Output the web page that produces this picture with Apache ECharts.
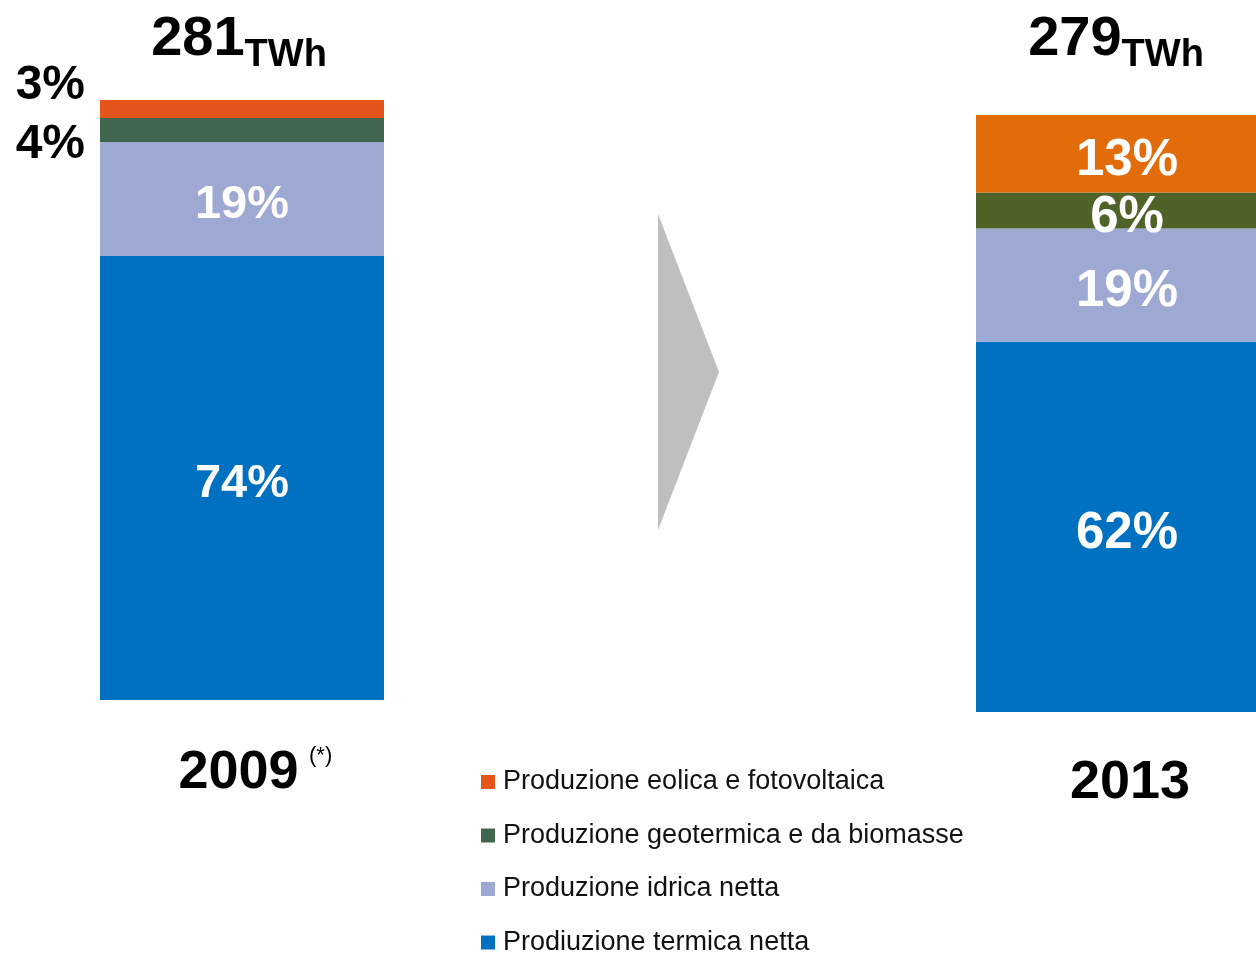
<!DOCTYPE html>
<html>
<head>
<meta charset="utf-8">
<script src="https://cdn.jsdelivr.net/npm/echarts@6/dist/echarts.min.js"></script>
<style>
  html, body { margin: 0; padding: 0; background: #fff; }
  #chart { width: 1256px; height: 956px; }
</style>
</head>
<body>
<div id="chart"></div>
<script>
const categories = ["2009", "2013"]
const totals = [281, 279]
const seriesNames = [
  "Produzione eolica e fotovoltaica",
  "Produzione geotermica e da biomasse",
  "Produzione idrica netta",
  "Prodiuzione termica netta",
]
// shares in % per year
const eolica = [3, 13]
const geotermica = [4, 6]
const idrica = [19, 19]
const termica = [74, 62]

const FONT = "Liberation Sans, Arial, Helvetica, sans-serif"
const colors2009 = ["#E5541A", "#406650", "#9DA9D2", "#0070C0"]
const colors2013 = ["#E36C0A", "#4F6228", "#9DA9D2", "#0070C0"]

const chart = echarts.init(document.getElementById("chart"))

const stackValues = [eolica, geotermica, idrica, termica]

// build series: bottom (termica) first so it sits at the base of the stack
const series = []
for (let g = 0; g < 2; g++) {
  for (let i = 3; i >= 0; i--) {
    const outside = g === 0 && i <= 1
    series.push({
      name: seriesNames[i],
      type: "bar",
      xAxisIndex: g,
      yAxisIndex: g,
      stack: "s" + g,
      barWidth: "100%",
      data: [stackValues[i][g]],
      itemStyle: { color: g === 0 ? colors2009[i] : colors2013[i] },
      label: {
        show: true,
        formatter: "{c}%",
        fontFamily: FONT,
        fontWeight: "bold",
        fontSize: outside ? 48 : (g === 0 ? 47 : 51),
        color: outside ? "#000" : "#fff",
        position: outside ? "left" : "inside",
        distance: 15,
        // the 2013 bar runs past the right edge in the original, so its labels sit right of centre
        offset: outside ? (i === 0 ? [0, -23] : [0, 15]) : (g === 0 ? [0, 6] : [11, 7]),
      },
    })
  }
}

const option = {
  animation: false,
  backgroundColor: "#fff",
  title: [0, 1].map((g) => ({
    text: "{n|" + totals[g] + "}{u|TWh}",
    left: g === 0 ? 239 : 1116,
    top: 5,
    padding: 0,
    textAlign: "center",
    textStyle: {
      rich: {
        n: { fontFamily: FONT, fontWeight: "bold", fontSize: 56, lineHeight: 70, color: "#000" },
        u: { fontFamily: FONT, fontWeight: "bold", fontSize: 38, lineHeight: 28, verticalAlign: "bottom", color: "#000" },
      },
    },
  })),
  legend: {
    orient: "vertical",
    left: 481,
    top: 767,
    height: 200,
    padding: 0,
    itemWidth: 14,
    itemHeight: 14,
    itemGap: 23.5,
    icon: "rect",
    data: seriesNames,
    selectedMode: false,
    textStyle: { fontFamily: FONT, fontSize: 27, color: "#111", lineHeight: 30, padding: [0, 0, 0, 3] },
  },
  grid: [
    { left: 100, top: 100, width: 284, height: 600 },
    { left: 976, right: 0, top: 115, height: 597 },
  ],
  xAxis: [0, 1].map((g) => ({
    type: "category",
    gridIndex: g,
    data: [categories[g]],
    axisLine: { show: false },
    axisTick: { show: false },
    axisLabel: {
      margin: g === 0 ? 48 : 46,
      fontFamily: FONT,
      fontWeight: "bold",
      fontSize: 54,
      color: "#000",
      lineHeight: 50,
      padding: g === 0 ? [0, 7, 0, 0] : [0, 0, 0, 28],
    },
  })),
  yAxis: [0, 1].map((g) => ({
    type: "value",
    gridIndex: g,
    min: 0,
    max: 100,
    show: false,
  })),
  graphic: [
    {
      type: "polygon",
      shape: { points: [[658, 214], [719, 372], [658, 530]] },
      style: { fill: "#BFBFBF" },
    },
    {
      type: "text",
      left: 309,
      top: 745,
      style: { text: "(*)", font: "22px " + FONT, fill: "#000" },
    },
  ],
  series: series,
}

chart.setOption(option)
</script>
</body>
</html>
